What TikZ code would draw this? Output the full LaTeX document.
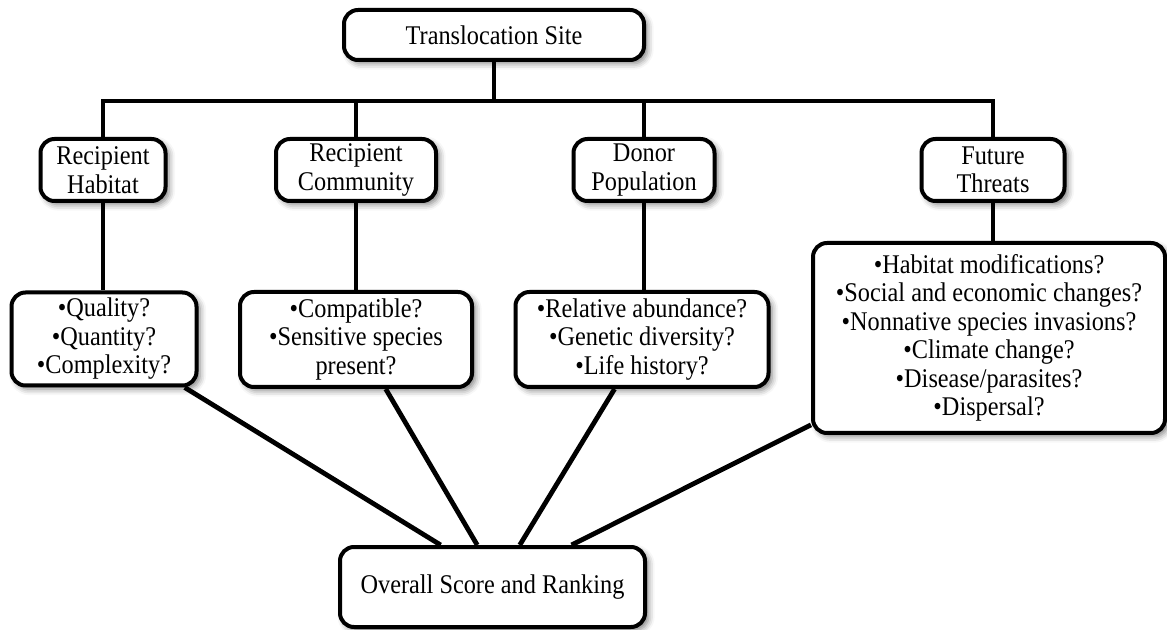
\documentclass[tikz,border=0pt]{standalone}
\usepackage{fontspec}
\setmainfont[FakeStretch=0.9]{Liberation Serif}
\usetikzlibrary{shadows.blur}

\begin{document}
\begin{tikzpicture}[x=0.5pt, y=-0.5pt,
    every node/.style={font=\fontsize{13.5}{14.25}\selectfont},
    card/.style={draw, rounded corners=7pt, line width=2pt, fill=white, align=center, inner sep=2pt,
      blur shadow={shadow xshift=1.8pt, shadow yshift=-1.8pt, shadow blur radius=3pt, shadow opacity=50}},
    link/.style={line width=2.4pt}]
  \useasboundingbox (0,0) rectangle (1167,630);

  % top and second row
  \node[card, minimum width=150pt, minimum height=25pt] (site) at (494,35) {Translocation Site};
  \node[card, minimum width=62.5pt, minimum height=31pt] (habitat) at (103,170) {Recipient\\Habitat};
  \node[card, minimum width=80pt, minimum height=31pt] (community) at (356,170) {Recipient\\Community};
  \node[card, minimum width=70.5pt, minimum height=31pt] (donor) at (644,170) {Donor\\Population};
  \node[card, minimum width=71.5pt, minimum height=31pt] (future) at (993,170) {Future\\Threats};

  % questions
  \node[card, minimum width=92.5pt, minimum height=46.5pt] (quality) at (104,339) {•Quality?\\•Quantity?\\•Complexity?};
  \node[card, minimum width=116pt, minimum height=47.5pt] (compatible) at (356,339.5) {•Compatible?\\•Sensitive species\\present?};
  \node[card, minimum width=126.5pt, minimum height=47.5pt] (abundance) at (642,339.5) {•Relative abundance?\\•Genetic diversity?\\•Life history?};
  \node[card, minimum width=176pt, minimum height=95pt] (threats) at (989,338) {•Habitat modifications?\\•Social and economic changes?\\•Nonnative species invasions?\\•Climate change?\\•Disease/parasites?\\•Dispersal?};

  \node[card, minimum width=152.5pt, minimum height=40pt] (overall) at (492.5,587) {Overall Score and Ranking};

  % tree
  \coordinate (bar) at (494,101);
  \draw[link] (site.south) -- (bar);
  \draw[link] (habitat.north) |- (bar) -| (future.north);
  \foreach \n in {community, donor}
    \draw[link] (\n.north) -- (\n.north |- bar);
  \foreach \a/\b in {habitat/quality, community/compatible, donor/abundance, future/threats}
    \draw[link] (\a.south) -- (\a.south |- \b.north);

  % into the score
  \foreach \a/\s/\e in {quality/-31/141, compatible/-59/110, abundance/-119/57.5, threats/-154/28}
    \draw[link] (\a.\s) -- (overall.\e);
\end{tikzpicture}
\end{document}
